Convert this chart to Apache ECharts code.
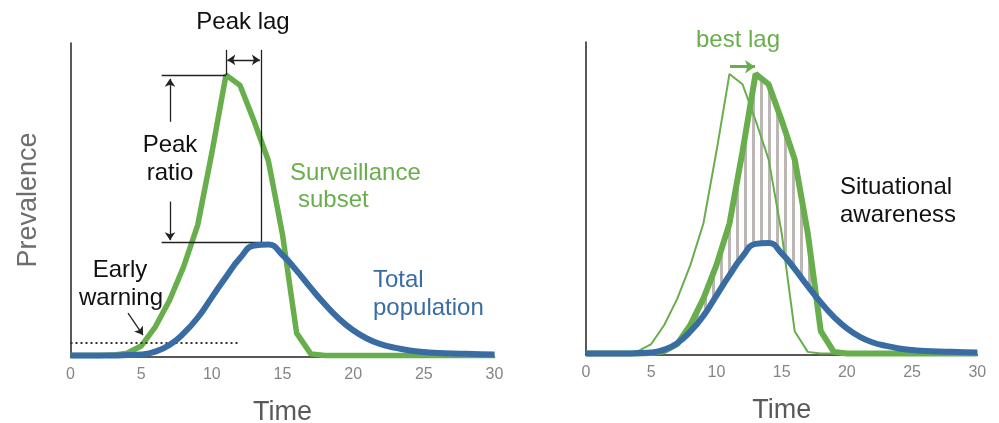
<!DOCTYPE html>
<html><head><meta charset="utf-8">
<script src="https://cdn.jsdelivr.net/npm/echarts@6/dist/echarts.min.js"></script>
<style>html,body{margin:0;padding:0;background:#fff}#c{width:999px;height:423px}</style>
</head><body><div id="c"></div>
<script>
// ---- data ----
const times = [0,1,2,3,4,5,6,7,8,9,10,11,12,13,14,15,16,17,18,19,20,21,22,23,24,25,26,27,28,29,30];
const surveillance = [0.5,0.5,0.5,0.6,1.2,3.5,9.6,18,28.7,42,65,89.8,86.5,75,62.5,39,7.6,1.0,0.5,0.5,0.5,0.5,0.5,0.5,0.5,0.5,0.5,0.5,0.5,0.5,0.5];
const totalPopulation = [0.5,0.5,0.5,0.5,0.6,0.8,1.7,3.8,7.5,12.5,19,25.5,31.5,35.5,35.8,32.5,27.5,22,16.8,12.2,8.5,5.8,4,2.9,2.1,1.6,1.3,1.1,1.0,0.9,0.8];
const bestLag = 2;
const xTickStep = 5;

const GREEN = '#69ae4c', BLUE = '#3a6ca4';
const FONT = '"Liberation Sans", Arial, Helvetica, sans-serif';

const pairs = (xs, ys) => xs.map((t, i) => [t, ys[i]]);
const surveillancePts = pairs(times, surveillance);
const totalPts = pairs(times, totalPopulation);
const shiftedPts = times.map((t, i) => [t + bestLag, surveillance[i]]).filter(p => p[0] <= times[times.length - 1]);
const shiftedFull = times.slice(0, bestLag).map(t => [t, surveillance[0]]).concat(shiftedPts);

// hatch pattern
const pc = document.createElement('canvas'); pc.width = 8; pc.height = 8;
const pctx = pc.getContext('2d'); pctx.fillStyle = '#bcb7b5'; pctx.fillRect(0, 0, 3, 8);

const peakIdx = surveillance.indexOf(Math.max(...surveillance));
const gPeak = [times[peakIdx], surveillance[peakIdx]];

function xAxis(grid, z) {
  return {
    type: 'value', gridIndex: grid, min: 0, max: 30, interval: xTickStep, z: z,
    axisLine: { show: true, onZero: false, lineStyle: { color: '#222', width: 1.5 } },
    axisTick: { show: false }, splitLine: { show: false },
    axisLabel: { color: '#858585', fontSize: 16, margin: 10, fontFamily: FONT },
    name: 'Time', nameLocation: 'middle', nameGap: 42,
    nameTextStyle: { fontSize: 27, color: '#5a5a5a', fontFamily: FONT }
  };
}
function yAxis(grid, z, name) {
  return {
    type: 'value', gridIndex: grid, min: 0, max: 100, z: z,
    axisLine: { show: true, onZero: false, lineStyle: { color: '#222', width: 1.5 } },
    axisTick: { show: false }, splitLine: { show: false }, axisLabel: { show: false },
    name: name, nameLocation: 'middle', nameGap: 28, nameRotate: 90,
    nameTextStyle: { fontSize: 27, color: '#6e6e6e', fontFamily: FONT }
  };
}

function txt(text, x, y, color, align) {
  return { type: 'text', silent: true, z: 100,
    style: { text: text, x: x, y: y, fill: color, font: '24px ' + FONT,
      textAlign: align || 'center', textVerticalAlign: 'middle', verticalAlign: 'middle' } };
}

const chart = echarts.init(document.getElementById('c'), null, { renderer: 'canvas' });
chart.setOption({
  animation: false,
  backgroundColor: '#fff',
  grid: [
    { left: 70.5, right: 504.5, top: 43, bottom: 66, containLabel: false, outerBoundsMode: 'none' },
    { left: 586, right: 21.7, top: 42, bottom: 68, containLabel: false, outerBoundsMode: 'none' }
  ],
  xAxis: [xAxis(0, 0), xAxis(1, 3)],
  yAxis: [yAxis(0, 0, 'Prevalence'), yAxis(1, 3, '')],
  graphic: [
    txt('Peak lag', 243, 22, '#111'),
    txt('Peak', 170, 145, '#111'),
    txt('ratio', 170, 173, '#111'),
    txt('Early', 120, 270, '#111'),
    txt('warning', 121, 298, '#111'),
    txt('Surveillance', 290, 173, GREEN, 'left'),
    txt('subset', 298, 200, GREEN, 'left'),
    txt('Total', 373, 280, BLUE, 'left'),
    txt('population', 373, 308, BLUE, 'left'),
    txt('best lag', 738, 40, GREEN),
    txt('Situational', 840, 187, '#111', 'left'),
    txt('awareness', 840, 215, '#111', 'left')
  ],
  series: [
    // ---- left panel ----
    { type: 'line', xAxisIndex: 0, yAxisIndex: 0, data: surveillancePts, symbol: 'none', z: 4,
      lineStyle: { color: GREEN, width: 5.5 },
      markLine: { silent: true, symbol: ['none', 'none'], symbolSize: 8, animation: false,
        label: { show: false }, emphasis: { disabled: true },
        lineStyle: { color: '#222', width: 1.3, type: 'solid' },
        data: [
          [{ coord: [gPeak[0], gPeak[1]] }, { coord: [gPeak[0], 97.8] }],
          [{ coord: [13.5, 36.4] }, { coord: [13.5, 97.8] }],
          [{ coord: [6.45, gPeak[1]] }, { coord: [gPeak[0], gPeak[1]] }],
          [{ coord: [6.45, 36.4] }, { coord: [13.5, 36.4] }],
          [{ coord: [11.1, 94.6], symbol: 'arrow' }, { coord: [13.4, 94.6], symbol: 'arrow' }],
          [{ coord: [7.04, 74.9] }, { coord: [7.04, 88.6], symbol: 'arrow' }],
          [{ coord: [7.04, 49.5] }, { coord: [7.04, 37.2], symbol: 'arrow' }],
          [{ coord: [4.07, 14] }, { coord: [5.13, 7.0], symbol: 'arrow' }]
        ] } },
    { type: 'line', xAxisIndex: 0, yAxisIndex: 0, data: totalPts, symbol: 'none', smooth: true, z: 5,
      lineStyle: { color: BLUE, width: 6 },
      markLine: { silent: true, symbol: ['none', 'none'], animation: false,
        label: { show: false }, emphasis: { disabled: true },
        lineStyle: { color: '#333', width: 2, type: [2, 3] },
        data: [[{ coord: [0, 4.55] }, { coord: [11.85, 4.55] }]] } },
    // ---- right panel ----
    { type: 'line', xAxisIndex: 1, yAxisIndex: 1, data: shiftedFull, symbol: 'none', z: 1,
      lineStyle: { width: 0, opacity: 0 },
      areaStyle: { color: { image: pc, repeat: 'repeat' }, opacity: 1 } },
    { type: 'line', xAxisIndex: 1, yAxisIndex: 1, data: totalPts, symbol: 'none', smooth: true, z: 2,
      lineStyle: { width: 0, opacity: 0 },
      areaStyle: { color: '#ffffff', opacity: 1 } },
    { type: 'line', xAxisIndex: 1, yAxisIndex: 1, data: surveillancePts, symbol: 'none', z: 4,
      lineStyle: { color: GREEN, width: 2 } },
    { type: 'line', xAxisIndex: 1, yAxisIndex: 1, data: shiftedFull, symbol: 'none', z: 4,
      lineStyle: { color: GREEN, width: 6 },
      markLine: { silent: true, symbol: ['none', 'arrow'], symbolSize: 10, animation: false,
        label: { show: false }, emphasis: { disabled: true },
        lineStyle: { color: GREEN, width: 3, type: 'solid' },
        data: [[{ coord: [11.04, 92.1] }, { coord: [12.96, 92.1] }]] } },
    { type: 'line', xAxisIndex: 1, yAxisIndex: 1, data: totalPts, symbol: 'none', smooth: true, z: 5,
      lineStyle: { color: BLUE, width: 6 } }
  ]
});
</script>
</body></html>
